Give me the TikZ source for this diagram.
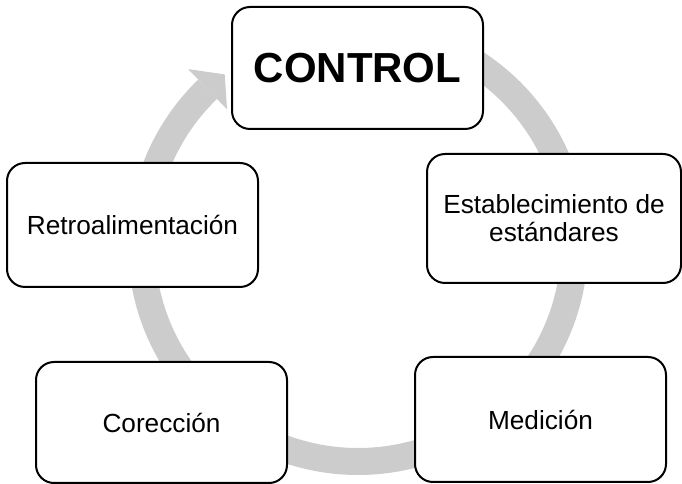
\documentclass[tikz,border=0pt]{standalone}
\usepackage{fontspec}
\setmainfont{Liberation Sans}
\usepackage{tikz}
\tikzset{
	caja/.style={draw=black, line width=2pt, fill=white, rounded corners=18pt, minimum width=251pt, minimum height=124pt, align=center, inner sep=0pt, font=\fontsize{26.2}{28}\selectfont},
	anillo/.style={line width=27pt, color=black!20}
}

\begin{document}
\begin{tikzpicture}[x=1pt, y=1pt]
	%%%%% START %%%%%
	
	\useasboundingbox (0, 0) rectangle (682, 484);
	
	\coordinate (centro) at (358, 239);
	\draw[anillo, shift={(centro)}] (90:216.5) arc (90:-226:216.5);
	\fill[black!20, shift={(centro)}] (134:188.5) -- (134:244.5) -- (128:216.5) -- cycle;
	
	\node[caja, minimum height=122pt, font=\fontsize{42}{46}\selectfont\bfseries] (control) at (357.5, 416) {CONTROL};
	\node[caja, minimum width=254pt, minimum height=129pt] (estandares) at (554, 265.5) {Establecimiento de\\estándares};
	\node[caja, minimum height=125pt] (medicion) at (540.5, 64.5) {Medición};
	\node[caja, minimum height=121pt] (correccion) at (161.5, 61.5) {Corección};
	\node[caja] (retro) at (132.5, 259) {Retroalimentación};
	
	%%%%% END %%%%%
\end{tikzpicture}
\end{document}
